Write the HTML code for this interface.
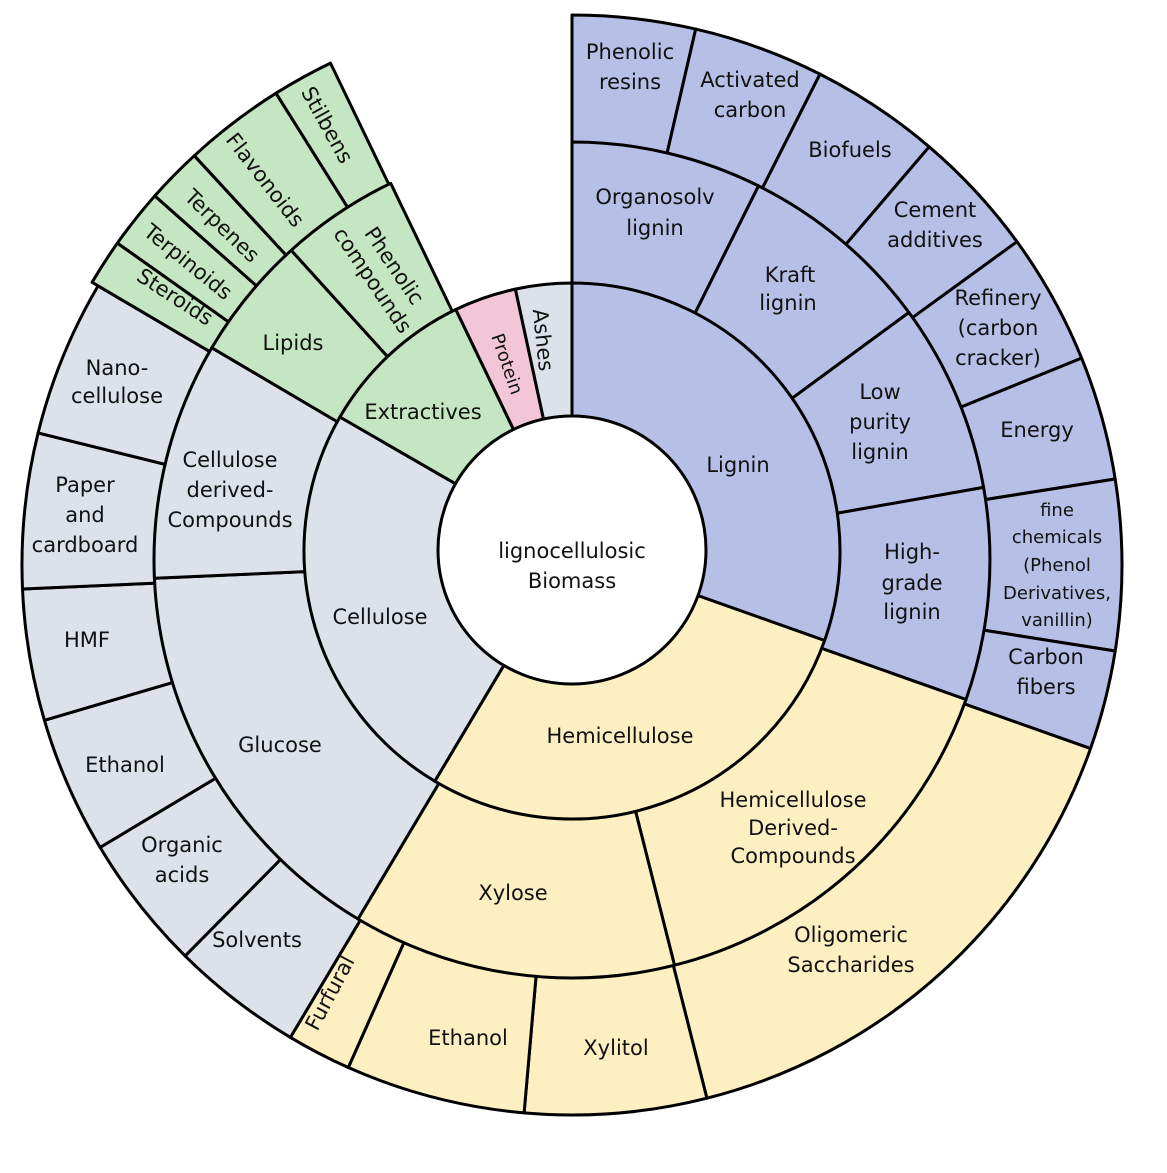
<!DOCTYPE html>
<html><head><meta charset="utf-8">
<style>
html,body{margin:0;padding:0;background:#fff}
svg{display:block}
text{font-family:"DejaVu Sans","Liberation Sans",sans-serif;font-size:21px;fill:#111;text-anchor:middle}
.s{font-size:18px}
</style></head>
<body>
<svg id="sv" width="1167" height="1173" viewBox="0 0 1167 1173" xmlns="http://www.w3.org/2000/svg">
<g id="shapes"></g>
<g id="labels">
<text x="572" y="558">lignocellulosic</text>
<text x="572" y="588">Biomass</text>
<text x="738" y="472">Lignin</text>
<text x="620" y="743">Hemicellulose</text>
<text x="380" y="624">Cellulose</text>
<text x="423" y="419">Extractives</text>
<text style="font-size:18px" transform="translate(507,364) rotate(71)" dy="6">Protein</text>
<text transform="translate(543,340) rotate(84)" dy="7">Ashes</text>
<text x="655" y="204">Organosolv</text><text x="655" y="235">lignin</text>
<text x="790" y="282">Kraft</text><text x="788" y="310">lignin</text>
<text x="880" y="399">Low</text><text x="880" y="429">purity</text><text x="880" y="459">lignin</text>
<text x="912" y="559">High-</text><text x="912" y="590">grade</text><text x="912" y="619">lignin</text>
<text x="630" y="59">Phenolic</text><text x="630" y="89">resins</text>
<text x="750" y="87">Activated</text><text x="750" y="117">carbon</text>
<text x="850" y="157">Biofuels</text>
<text x="935" y="217">Cement</text><text x="935" y="247">additives</text>
<text x="998" y="305">Refinery</text><text x="998" y="335">(carbon</text><text x="998" y="365">cracker)</text>
<text x="1037" y="437">Energy</text>
<text class="s" x="1057" y="516">fine</text><text class="s" x="1057" y="543">chemicals</text><text class="s" x="1057" y="571">(Phenol</text><text class="s" x="1057" y="599">Derivatives,</text><text class="s" x="1057" y="626">vanillin)</text>
<text x="1046" y="664">Carbon</text><text x="1046" y="694">fibers</text>
<text x="793" y="807">Hemicellulose</text><text x="793" y="835">Derived-</text><text x="793" y="863">Compounds</text>
<text x="851" y="942">Oligomeric</text><text x="851" y="972">Saccharides</text>
<text x="513" y="900">Xylose</text>
<text x="616" y="1055">Xylitol</text>
<text x="468" y="1045">Ethanol</text>
<text transform="translate(330,993) rotate(-62)" dy="7">Furfural</text>
<text x="280" y="752">Glucose</text>
<text x="230" y="467">Cellulose</text><text x="230" y="497">derived-</text><text x="230" y="527">Compounds</text>
<text x="87" y="647">HMF</text>
<text x="125" y="772">Ethanol</text>
<text x="182" y="852">Organic</text><text x="182" y="882">acids</text>
<text x="257" y="947">Solvents</text>
<text x="85" y="492">Paper</text><text x="85" y="522">and</text><text x="85" y="552">cardboard</text>
<text x="117" y="375">Nano-</text><text x="117" y="403">cellulose</text>
<text x="293" y="350">Lipids</text>
<text transform="translate(385,272) rotate(56)"><tspan x="0" dy="-4">Phenolic</tspan><tspan x="0" dy="26">compounds</tspan></text>
<text transform="translate(175,297) rotate(33)" dy="7">Steroids</text>
<text transform="translate(188,262) rotate(39)" dy="7">Terpinoids</text>
<text transform="translate(222,226) rotate(44)" dy="7">Terpenes</text>
<text transform="translate(265,180) rotate(52)" dy="7">Flavonoids</text>
<text transform="translate(327,125) rotate(61)" dy="7">Stilbens</text>
</g>
</svg>
<script>
var L='#b6c0e6',H='#fcefc2',C='#dde2ea',E='#c5e6c2',P='#f2c6d6',A='#dde2ea';
function pt(cx,cy,r,a){var t=a*Math.PI/180;return [cx+r*Math.sin(t),cy-r*Math.cos(t)];}
function wedge(cx,cy,r,a0,a1,fill){
 var p0=pt(cx,cy,r,a0),p1=pt(cx,cy,r,a1),lg=(a1-a0)>180?1:0;
 return '<path d="M'+cx+','+cy+' L'+p0[0].toFixed(1)+','+p0[1].toFixed(1)+' A'+r+','+r+' 0 '+lg+' 1 '+p1[0].toFixed(1)+','+p1[1].toFixed(1)+' Z" fill="'+fill+'" stroke="#000" stroke-width="3" stroke-linejoin="round"/>';
}
var s='';
var c3=[572,565],r3=550;
var R3=[[0,13,L],[13,26.8,L],[26.8,40.5,L],[40.5,54,L],[54,67.9,L],[67.9,81,L],[81,99,L],[99,109.5,L],
[109.5,165.8,H],[165.8,185,H],[185,204,H],[204,210.8,H],
[210.8,224.7,C],[224.7,239.1,C],[239.1,253.6,C],[253.6,267.5,C],[267.5,283.9,C],[283.9,300.5,C]];
R3.forEach(function(w){s+=wedge(c3[0],c3[1],r3,w[0],w[1],w[2]);});
var RE=[[300.5,305.3],[305.3,311.5],[311.5,317.3],[317.3,327.9],[327.9,334.3]];
RE.forEach(function(w){s+=wedge(572,565,557,w[0],w[1],E);});
var c2=[572,560],r2=418;
var R2=[[0,26.5,L],[26.5,53.7,L],[53.7,80,L],[80,109.5,L],[109.5,165.8,H],[165.8,210.8,H],[210.8,267.5,C],[267.5,300.5,C],[300.5,317.8,E],[317.8,334.3,E]];
R2.forEach(function(w){s+=wedge(c2[0],c2[1],r2,w[0],w[1],w[2]);});
var c1=[572,551],r1=268;
var R1=[[0,109.5,L],[109.5,210.8,H],[210.8,300,C],[300,334.3,E],[334.3,347.8,P],[347.8,360,A]];
R1.forEach(function(w){s+=wedge(c1[0],c1[1],r1,w[0],w[1],w[2]);});
s+='<circle cx="572" cy="550" r="134" fill="#fff" stroke="#000" stroke-width="3"/>';
document.getElementById('shapes').innerHTML=s;
</script>
</body></html>
